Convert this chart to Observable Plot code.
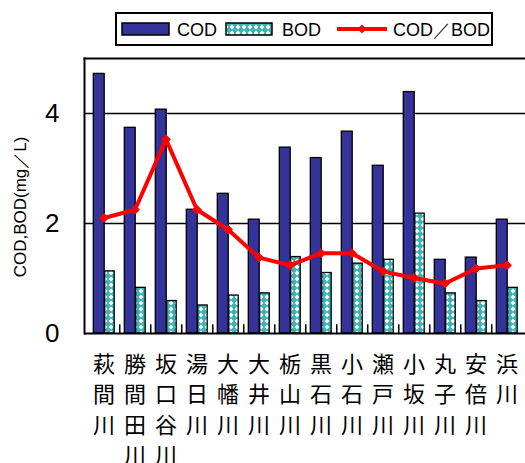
<!DOCTYPE html>
<html><head><meta charset="utf-8">
<script src="https://cdn.jsdelivr.net/npm/d3@7"></script>
<script src="https://cdn.jsdelivr.net/npm/@observablehq/plot@0.6"></script>
<style>
body{margin:0;background:#fff;}
#wrap{position:relative;width:525px;height:463px;overflow:hidden;}
#legend{position:absolute;left:115px;top:12px;}
#chart{position:absolute;left:0;top:0;}
</style></head><body>
<svg width="0" height="0" style="position:absolute">
  <defs>
    <pattern id="bodPat" width="6" height="6" patternUnits="userSpaceOnUse">
      <rect width="6" height="6" fill="#3cb4b4"/>
      <path d="M3 0.6 L5.4 3 L3 5.4 L0.6 3Z" fill="#ffffff"/>
    </pattern>
  </defs>
</svg>
<div id="wrap"><div id="chart"></div><div id="legend"></div></div>
<script>
const rivers = ["萩間川","勝間田川","坂口谷川","湯日川","大幡川","大井川","栃山川","黒石川","小石川","瀬戸川","小坂川","丸子川","安倍川","浜川"];
const cod = [4.72,3.74,4.07,2.25,2.54,2.07,3.38,3.19,3.67,3.05,4.39,1.34,1.38,2.07];
const bod = [1.13,0.83,0.59,0.51,0.69,0.73,1.39,1.10,1.27,1.34,2.18,0.73,0.59,0.83];
const ratio = [2.10,2.25,3.53,2.25,1.89,1.38,1.24,1.46,1.46,1.13,1.01,0.91,1.18,1.24];
const yTicks = [0,2,4];
const gridLines = [2,4];
const seriesNames = ["COD","BOD","COD／BOD"];
const yTitle = "COD,BOD(mg／L)";

const data = rivers.map((r,i)=>({river:r, cod:cod[i], bod:bod[i], ratio:ratio[i]}));
const latin = '"Liberation Sans", Arial, sans-serif';
const cjk = '"Noto Sans CJK JP", sans-serif';
const bw = 31.5;

const chart = Plot.plot({
  width:525, height:463,
  marginTop:58, marginBottom:130, marginLeft:84, marginRight:0,
  x:{domain:rivers, padding:0, axis:null},
  y:{domain:[0,5], axis:null},
  style:{fontFamily:latin, background:"white", overflow:"visible"},
  marks:[
    Plot.ruleY(gridLines, {stroke:"#000", strokeWidth:1.5}),
    Plot.barY(data, {x:"river", y:"cod", fill:"#333399", stroke:"#000", strokeWidth:1.3, insetLeft:5.3, insetRight:14.8}),
    Plot.barY(data, {x:"river", y:"bod", fill:"url(#bodPat)", stroke:"#000", strokeWidth:1.3, insetLeft:16.7, insetRight:4.8}),
    Plot.ruleX(rivers.slice(0,-1), {x:d=>d, dx:bw/2, y1:0, y2:0.16, stroke:"#000", strokeWidth:1.5}),
    Plot.frame({anchor:"left", stroke:"#000", strokeWidth:2}),
    Plot.frame({anchor:"top", stroke:"#000", strokeWidth:2}),
    Plot.ruleY([0], {stroke:"#000", strokeWidth:2}),
    Plot.line(data, {x:"river", y:"ratio", stroke:"#ff0000", strokeWidth:4}),
    Plot.dot(data, {x:"river", y:"ratio", symbol:"diamond2", r:4, fill:"#ff0000", stroke:"#ff0000", strokeWidth:1}),
    Plot.axisY({ticks:yTicks, tickSize:0, tickPadding:25, fontSize:26, fill:"#000", tickFormat:d=>String(d)}),
    Plot.text([yTitle], {text:d=>d, frameAnchor:"left", textAnchor:"middle", rotate:-90, dx:-64, dy:11, fontSize:17, fill:"#000"}),
    Plot.text(data, {x:"river", text:d=>d.river.split("").join("\n"), frameAnchor:"bottom", lineAnchor:"top", dy:17, fontSize:22, lineHeight:1.38, fontFamily:cjk, fill:"#000"})
  ]
});
document.getElementById("chart").append(chart);

// legend
const lg = d3.select("#legend").append("svg").attr("width",378).attr("height",34);
lg.append("rect").attr("x",1).attr("y",1).attr("width",376).attr("height",32).attr("fill","#fff").attr("stroke","#000").attr("stroke-width",2);
const items = lg.append("g").attr("font-family", latin).attr("font-size", 18).attr("fill","#000");
lg.append("rect").attr("x",7).attr("y",11).attr("width",47).attr("height",12).attr("fill","#333399").attr("stroke","#000").attr("stroke-width",1.5);
items.append("text").attr("x",62).attr("y",23.5).text(seriesNames[0]);
lg.append("rect").attr("x",111).attr("y",11).attr("width",46).attr("height",12).attr("fill","url(#bodPat)").attr("stroke","#000").attr("stroke-width",1.5);
items.append("text").attr("x",167).attr("y",23.5).text(seriesNames[1]);
lg.append("line").attr("x1",222).attr("x2",272).attr("y1",17).attr("y2",17).attr("stroke","#ff0000").attr("stroke-width",4);
lg.append("path").attr("d", d3.symbol(d3.symbolDiamond2, 50)()).attr("transform","translate(247,17)").attr("fill","#ff0000");
items.append("text").attr("x",278).attr("y",23.5).text(seriesNames[2]);
</script>
</body></html>
